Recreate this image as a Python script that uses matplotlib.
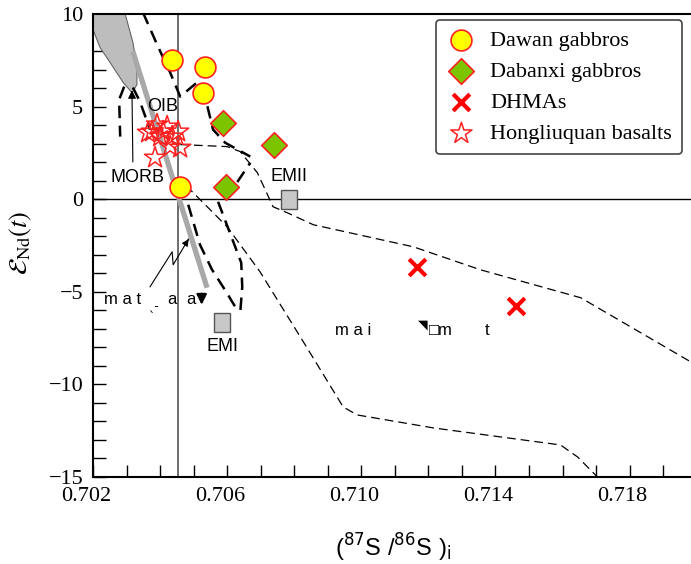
import matplotlib
matplotlib.use('Agg')
import matplotlib.pyplot as plt
from matplotlib.patches import Rectangle, Polygon
from matplotlib.transforms import ScaledTranslation

plt.rcParams['font.family'] = ['Liberation Serif', 'DejaVu Sans']

# sample data
dawan_x = [0.70436, 0.70534, 0.70528, 0.70460]
dawan_y = [7.49, 7.16, 5.76, 0.68]
dabanxi_x = [0.70588, 0.70740, 0.70597]
dabanxi_y = [4.14, 2.95, 0.68]
dhma_x = [0.71167, 0.71460]
dhma_y = [-3.65, -5.76]
hlq_x = [0.70376, 0.70391, 0.70421, 0.70454, 0.70400, 0.70436, 0.70460, 0.70385, 0.70430, 0.70364, 0.70409]
hlq_y = [3.65, 4.03, 3.92, 3.65, 3.38, 3.38, 2.78, 2.24, 2.84, 3.59, 3.65]

# end members
em_names = ['EMII', 'EMI']
em_x = [0.70785, 0.70585]
em_y = [0.0, -6.68]

# MORB field
morb_x = [0.70200, 0.70296, 0.70319, 0.70331, 0.70331, 0.70319, 0.70316, 0.70290, 0.70251, 0.70221, 0.70200]
morb_y = [10.0, 10.0, 8.46, 7.16, 6.19, 5.81, 5.76, 6.30, 7.38, 8.19, 9.16]

# mantle array (thick grey line)
array_x = [0.70319, 0.70540]
array_y = [7.97, -4.78]

# thick dashed trends
tA_x = [0.70349, 0.70391, 0.70430, 0.70460, 0.70510, 0.70534, 0.70558, 0.70594, 0.70669]
tA_y = [10.08, 8.35, 6.84, 5.54, 6.30, 5.54, 3.76, 3.05, 2.30]
tB_x = [0.70597, 0.70669]
tB_y = [0.03, 1.97]
tC_x = [0.70573, 0.70642, 0.70645, 0.70639]
tC_y = [-0.14, -3.43, -4.73, -6.13]
tD_x = [0.70484, 0.70519, 0.70555, 0.70597, 0.70633]
tD_y = [-0.30, -2.46, -3.81, -5.00, -6.08]
oibL_x = [0.70293, 0.70278, 0.70281]
oibL_y = [6.08, 5.38, 3.38]
oibR_x = [0.70319, 0.70340, 0.70370]
oibR_y = [6.03, 5.27, 3.76]

# thin dashed curves
cU_x = [0.70460, 0.70600, 0.70639, 0.70690, 0.70737, 0.70779, 0.70857, 0.71155, 0.71355, 0.71654, 0.71982]
cU_y = [2.95, 2.84, 2.57, 1.43, -0.41, -0.73, -1.38, -2.57, -3.81, -5.32, -8.78]
cL_x = [0.70445, 0.70490, 0.70600, 0.70698, 0.70818, 0.70946, 0.70988, 0.71215, 0.71594, 0.71645, 0.71704]
cL_y = [1.16, 0.51, -1.49, -3.92, -7.43, -11.22, -11.65, -12.35, -13.27, -13.92, -15.0]

bse_x = 0.70454

xtick_vals = [0.702, 0.706, 0.710, 0.714, 0.718]
ytick_vals = [-15, -10, -5, 0, 5, 10]

fig = plt.figure(figsize=(6.91, 5.64), dpi=100)
ax = fig.add_axes([93/691, 87/564, 598/691, 463/564])
ax.set_xlim(0.702, 0.71983)
ax.set_ylim(-15, 10)

ax.add_patch(Polygon(list(zip(morb_x, morb_y)), closed=True, fc='#bdbdbd', ec='#666666', lw=0.8, zorder=2))
ax.plot(array_x, array_y, color='#a8a8a8', lw=3.8, solid_capstyle='butt', zorder=3)

ax.axvline(bse_x, color='#555555', lw=1.2, zorder=1)
ax.axhline(0, color='black', lw=1.0, zorder=1)

thick = dict(color='black', lw=1.8, dashes=(5, 3), zorder=2)
for xs, ys in [(tA_x, tA_y), (tB_x, tB_y), (tC_x, tC_y), (tD_x, tD_y), (oibL_x, oibL_y), (oibR_x, oibR_y)]:
    ax.plot(xs, ys, **thick)
thin = dict(color='black', lw=0.9, dashes=(7, 4), zorder=2)
ax.plot(cU_x, cU_y, **thin)
ax.plot(cL_x, cL_y, **thin)

# end member boxes
for name, x, y in zip(em_names, em_x, em_y):
    w, h = 0.000478, 1.03
    ax.add_patch(Rectangle((x - w/2, y - h/2), w, h, fc='#c8c8c8', ec='#555555', lw=1.0, zorder=4))
sans = 'Liberation Sans'
ax.text(em_x[0], em_y[0] + 1.22, 'EMII', ha='center', va='center', fontsize=13, family=sans)
ax.text(em_x[1], em_y[1] - 1.29, 'EMI', ha='center', va='center', fontsize=13, family=sans)
ax.text(0.70409, 5.0, 'OIB', ha='center', va='center', fontsize=13, family=sans)
ax.text(0.70334, 1.16, 'MORB', ha='center', va='center', fontsize=13, family=sans)

# arrows
ax.annotate('', xy=(0.70316, 6.03), xytext=(0.70319, 1.86),
            arrowprops=dict(arrowstyle='-|>', color='black', lw=0.8, mutation_scale=12), zorder=5)
ax.plot([0.70370, 0.70436, 0.70439, 0.70485], [-4.73, -2.84, -3.54, -2.15], color='black', lw=0.8)
ax.annotate('', xy=(0.70490, -2.03), xytext=(0.70480, -2.30),
            arrowprops=dict(arrowstyle='-|>', color='black', lw=0.8, mutation_scale=10))
ax.annotate('', xy=(0.70524, -5.85), xytext=(0.70524, -4.95),
            arrowprops=dict(arrowstyle='-|>', color='black', lw=1.6, mutation_scale=15))

# garbled labels as they appear
ax.text(0.70233, -5.43, 'm a t', ha='left', va='center', fontsize=12, family=sans)
ax.text(0.70368, -5.80, '\u02ce-', ha='left', va='center', fontsize=9, family='DejaVu Sans')
ax.text(0.70420, -5.43, 'a', ha='left', va='center', fontsize=12, family=sans)
ax.text(0.70477, -5.43, 'a', ha='left', va='center', fontsize=12, family=sans)
ax.text(0.70922, -7.11, 'm a i', ha='left', va='center', fontsize=12, family=sans)
ax.text(0.71168, -6.80, '\u25e5', ha='left', va='center', fontsize=9, family='DejaVu Sans')
ax.text(0.71203, -7.11, '\u25a1m', ha='left', va='center', fontsize=12, family=['Liberation Sans', 'DejaVu Sans'])
ax.text(0.71367, -7.11, 't', ha='left', va='center', fontsize=12, family=sans)

# samples
ax.scatter(dawan_x, dawan_y, s=15**2, marker='o', facecolor='#ffff00', edgecolor='#ff2020', lw=1.2, zorder=6, label='Dawan gabbros')
ax.scatter(dabanxi_x, dabanxi_y, s=13**2, marker='D', facecolor='#7cc400', edgecolor='#ff2020', lw=1.2, zorder=6, label='Dabanxi gabbros')
ax.scatter(dhma_x, dhma_y, s=12**2, marker='x', color='#ff0000', lw=3, zorder=6, label='DHMAs')
ax.scatter(hlq_x, hlq_y, s=16**2, marker='*', facecolor='none', edgecolor='#ff2020', lw=1.1, zorder=6, label='Hongliuquan basalts')

leg = ax.legend(loc='upper right', bbox_to_anchor=(0.985, 0.987), fancybox=True, framealpha=1,
                edgecolor='#444444', prop={'family': 'Liberation Serif', 'size': 16},
                labelspacing=0.48, handletextpad=0.6, borderpad=0.45, handlelength=1.4, borderaxespad=0)
leg.get_frame().set_linewidth(1.2)

# axes styling
serif = 'Liberation Serif'
ax.set_xticks(xtick_vals)
ax.set_xticklabels(['%.3f' % v for v in xtick_vals], fontfamily=serif, fontsize=16)
ax.set_xticks([0.702 + 0.001 * i for i in range(18)], minor=True)
ax.set_yticks(ytick_vals)
ax.set_yticklabels([('\u2212%d' % -v if v < 0 else '%d' % v) for v in ytick_vals], fontfamily=serif, fontsize=16)
ax.set_yticks(range(-15, 11), minor=True)
ax.tick_params(which='both', direction='in', length=9, width=1.0, pad=7, top=False, right=False)
for lab in ax.get_xticklabels():
    lab.set_transform(lab.get_transform() + ScaledTranslation(-0.07, 0, fig.dpi_scale_trans))
ax.spines['right'].set_visible(False)
for sp in ['left', 'bottom', 'top']:
    ax.spines[sp].set_linewidth(1.5)

fig.text(393/691, 1 - 548/564, r'($^{87}$S /$^{86}$S )$_{\rm i}$', ha='center', va='center',
         fontsize=17, family=sans, math_fontfamily='dejavusans')
fig.text(21/691, 1 - 243/564, r'$\mathcal{E}_{\rm Nd}(t)$', rotation=90, ha='center', va='center',
         fontsize=19, math_fontfamily='stix')

fig.savefig('out.png', dpi=100)
